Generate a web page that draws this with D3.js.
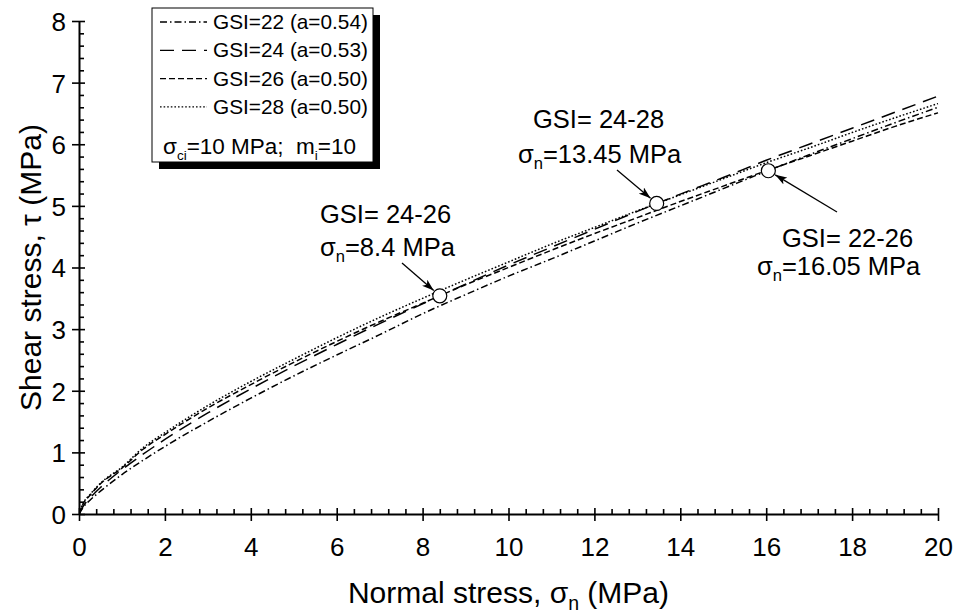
<!DOCTYPE html>
<html>
<head>
<meta charset="utf-8">
<script src="https://cdn.jsdelivr.net/npm/d3@7"></script>
<style>
  body { margin: 0; background: #fff; }
  svg { display: block; }
  text { font-family: "Liberation Sans", Arial, Helvetica, sans-serif; fill: #000; }
</style>
</head>
<body>
<svg id="chart" width="956" height="614"></svg>
<script>
// Normal stress (MPa) at which each shear-strength envelope is sampled
const sigmaN   = [0, 0.1, 0.25, 0.5, 1, 1.5, 2, 3, 4, 5, 6, 7, 8, 9, 10, 11, 12, 13, 14, 15, 16, 17, 18, 19, 20];
// Shear stress (MPa) for each GSI envelope
const tauGSI22 = [0, 0.11, 0.22, 0.37, 0.64, 0.875, 1.095, 1.50, 1.88, 2.24, 2.58, 2.91, 3.25, 3.56, 3.86, 4.14, 4.43, 4.72, 5.00, 5.28, 5.56, 5.83, 6.09, 6.35, 6.60];
const tauGSI24 = [0, 0.13, 0.255, 0.43, 0.72, 0.974, 1.21, 1.64, 2.03, 2.40, 2.75, 3.09, 3.41, 3.73, 4.04, 4.33, 4.62, 4.91, 5.19, 5.46, 5.74, 6.00, 6.26, 6.52, 6.78];
const tauGSI26 = [0, 0.17, 0.30, 0.49, 0.745, 1.055, 1.29, 1.72, 2.10, 2.46, 2.80, 3.12, 3.42, 3.72, 4.00, 4.28, 4.55, 4.81, 5.07, 5.32, 5.57, 5.81, 6.05, 6.29, 6.51];
const tauGSI28 = [0, 0.18, 0.31, 0.50, 0.76, 1.08, 1.32, 1.76, 2.15, 2.51, 2.86, 3.19, 3.50, 3.80, 4.09, 4.38, 4.65, 4.92, 5.18, 5.44, 5.70, 5.94, 6.19, 6.43, 6.66];

const seriesLabels = ["GSI=22 (a=0.54)", "GSI=24 (a=0.53)", "GSI=26 (a=0.50)", "GSI=28 (a=0.50)"];

// Intersection points of envelope pairs
const crossSigma = [8.4, 13.45, 16.05];
const crossTau   = [3.54, 5.04, 5.57];
const crossPairs = ["24-26", "24-28", "22-26"];

const xTicks = [0, 2, 4, 6, 8, 10, 12, 14, 16, 18, 20];
const yTicks = [0, 1, 2, 3, 4, 5, 6, 7, 8];

const svg = d3.select("#chart");
const x = d3.scaleLinear().domain([0, 20]).range([79, 938]);
const y = d3.scaleLinear().domain([0, 8]).range([514, 21]);

const dashes = ["7,3,1.5,3", "14,8", "6,3", "1.6,2"];
const series = [tauGSI22, tauGSI24, tauGSI26, tauGSI28].map((vals, i) => ({
  label: seriesLabels[i],
  dash: dashes[i],
  points: sigmaN.map((s, j) => [s, vals[j]])
}));

// clip curves to the plotting area
svg.append("defs").append("clipPath").attr("id", "plotClip")
  .append("rect").attr("x", x(0)).attr("y", y(8) - 2)
  .attr("width", x(20) - x(0) + 2).attr("height", y(0) - y(8) + 2);

const line = d3.line().x(d => x(d[0])).y(d => y(d[1])).curve(d3.curveMonotoneX);

svg.append("g").attr("clip-path", "url(#plotClip)")
  .selectAll("path").data(series).join("path")
  .attr("d", d => line(d.points))
  .attr("fill", "none").attr("stroke", "#000")
  .attr("stroke-width", 1.5)
  .attr("stroke-dasharray", d => d.dash);

// ---- axes ----
const minorX = d3.range(0, 20.001, 0.4).filter(v => Math.abs(v / 2 - Math.round(v / 2)) > 1e-6);
const minorY = d3.range(0, 8.001, 0.2).filter(v => Math.abs(v - Math.round(v)) > 1e-6);

const gx = svg.append("g").attr("transform", `translate(0,${y(0)})`);
gx.call(d3.axisBottom(x).tickValues(minorX).tickSize(-5).tickSizeOuter(0).tickFormat(""));
gx.call(g => g.select(".domain").remove());
const gxMajor = svg.append("g").attr("transform", `translate(0,${y(0)})`)
  .call(d3.axisBottom(x).tickValues(xTicks).tickSizeOuter(0).tickFormat(d3.format("d")));
gxMajor.selectAll(".tick line").attr("y1", -6).attr("y2", 7);
gxMajor.selectAll(".tick text").attr("y", 42).attr("dy", 0).attr("font-size", 26);

const gy = svg.append("g").attr("transform", `translate(${x(0)},0)`);
gy.call(d3.axisLeft(y).tickValues(minorY).tickSize(-5).tickSizeOuter(0).tickFormat(""));
gy.call(g => g.select(".domain").remove());
const gyMajor = svg.append("g").attr("transform", `translate(${x(0)},0)`)
  .call(d3.axisLeft(y).tickValues(yTicks).tickSizeOuter(0).tickFormat(d3.format("d")));
gyMajor.selectAll(".tick line").attr("x1", 6).attr("x2", -7);
gyMajor.selectAll(".tick text").attr("x", -13).attr("dy", "0.36em").attr("font-size", 26);

svg.selectAll(".domain").attr("stroke", "#000").attr("stroke-width", 2);
svg.selectAll(".tick line").attr("stroke", "#000").attr("stroke-width", 1.6);
svg.selectAll(".tick text").attr("font-family", null);

// helper for text with subscripts: parts = [[text, isSub], ...]
function richText(g, parts, size, subScale, shift) {
  const t = g.append("text").attr("font-size", size);
  const d = size * (shift || 0.28);
  let shifted = false;
  parts.forEach(([str, sub]) => {
    const ts = t.append("tspan").text(str);
    if (sub) ts.attr("font-size", size * subScale);
    if (sub && !shifted) { ts.attr("dy", d); shifted = true; }
    else if (!sub && shifted) { ts.attr("dy", -d); shifted = false; }
  });
  return t;
}

// axis titles
richText(svg, [["Normal stress, σ", false], ["n", true], [" (MPa)", false]], 30, 0.65, 0.22)
  .attr("x", (x(0) + x(20)) / 2).attr("y", 603).attr("text-anchor", "middle");
svg.append("text").attr("font-size", 30)
  .attr("transform", `translate(41,${(y(0) + y(8)) / 2}) rotate(-90)`)
  .attr("text-anchor", "middle").text("Shear stress, τ (MPa)");

// ---- legend ----
const lg = svg.append("g");
const box = { x: 152, y: 8, w: 221, h: 154 };
lg.append("rect").attr("x", box.x + 7).attr("y", box.y + 7).attr("width", box.w).attr("height", box.h).attr("fill", "#000");
lg.append("rect").attr("x", box.x).attr("y", box.y).attr("width", box.w).attr("height", box.h)
  .attr("fill", "#fff").attr("stroke", "#000").attr("stroke-width", 1);
series.forEach((s, i) => {
  const cy = 22 + i * 28.3;
  lg.append("line").attr("x1", 160).attr("x2", 207).attr("y1", cy).attr("y2", cy)
    .attr("stroke", "#000").attr("stroke-width", 1.3).attr("stroke-dasharray", s.dash);
  lg.append("text").attr("x", 213).attr("y", cy + 7).attr("font-size", 20.8).text(s.label);
});
richText(lg, [["σ", false], ["ci", true], ["=10 MPa;  m", false], ["i", true], ["=10", false]], 22.5, 0.6)
  .attr("x", 163).attr("y", 154).style("white-space", "pre");

// ---- intersection markers and annotations ----
svg.append("defs").append("marker").attr("id", "arrowHead")
  .attr("viewBox", "0 0 12 8").attr("refX", 12).attr("refY", 4)
  .attr("markerWidth", 12).attr("markerHeight", 8).attr("markerUnits", "userSpaceOnUse")
  .attr("orient", "auto")
  .append("path").attr("d", "M0,0 L12,4 L0,8 L3,4 Z").attr("fill", "#000");

const annoText = [
  { l1: [320, 223], l2: [320, 256], from: [402, 263] },
  { l1: [533, 128], l2: [518, 163], from: [617, 170] },
  { l1: [782, 247], l2: [757, 275], from: [837, 212] }
];
const r = 7;
crossSigma.forEach((s, i) => {
  const cx = x(s), cy = y(crossTau[i]);
  const a = annoText[i];
  const dx = cx - a.from[0], dy = cy - a.from[1];
  const len = Math.hypot(dx, dy);
  svg.append("line")
    .attr("x1", a.from[0]).attr("y1", a.from[1])
    .attr("x2", cx - dx / len * (r + 1)).attr("y2", cy - dy / len * (r + 1))
    .attr("stroke", "#000").attr("stroke-width", 1.3).attr("marker-end", "url(#arrowHead)");
  svg.append("circle").attr("cx", cx).attr("cy", cy).attr("r", r)
    .attr("fill", "#fff").attr("stroke", "#000").attr("stroke-width", 1.2);
  svg.append("text").attr("x", a.l1[0]).attr("y", a.l1[1]).attr("font-size", 25.5)
    .text("GSI= " + crossPairs[i]);
  richText(svg, [["σ", false], ["n", true], ["=" + s + " MPa", false]], 25.5, 0.65, 0.22)
    .attr("x", a.l2[0]).attr("y", a.l2[1]);
});
</script>
</body>
</html>
